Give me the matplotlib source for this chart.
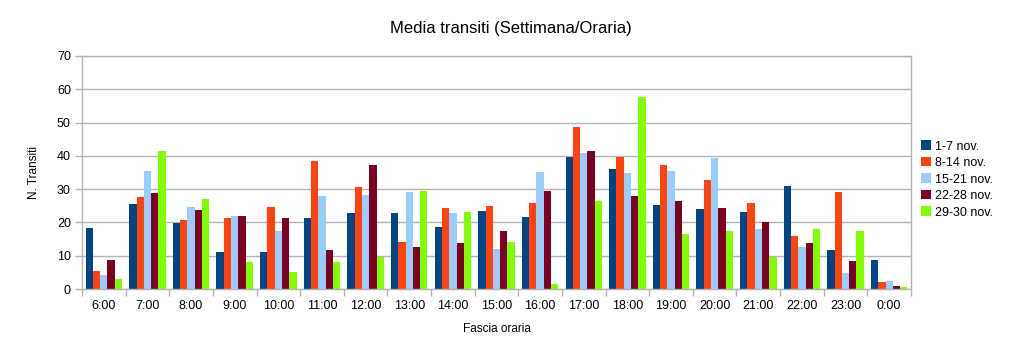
import matplotlib
matplotlib.use("Agg")
import matplotlib.pyplot as plt
import numpy as np

plt.rcParams['font.family'] = ['Liberation Sans', 'DejaVu Sans']

categories = ["6:00", "7:00", "8:00", "9:00", "10:00", "11:00", "12:00", "13:00", "14:00",
              "15:00", "16:00", "17:00", "18:00", "19:00", "20:00", "21:00", "22:00", "23:00", "0:00"]
s1_7 = [18.2, 25.6, 19.9, 11.1, 11.1, 21.2, 22.7, 22.9, 18.7, 23.4, 21.5, 39.7, 36.0, 25.1, 24.0, 23.0, 30.8, 11.6, 8.8]
s8_14 = [5.4, 27.6, 20.7, 21.2, 24.5, 38.5, 30.7, 14.1, 24.2, 25.0, 25.7, 48.8, 39.8, 37.2, 32.6, 25.9, 15.8, 29.1, 2.0]
s15_21 = [4.3, 35.6, 24.6, 22.0, 17.4, 27.9, 28.3, 29.1, 22.8, 12.0, 35.3, 40.8, 34.7, 35.5, 39.4, 18.1, 12.6, 4.8, 2.5]
s22_28 = [8.8, 28.9, 23.6, 22.0, 21.2, 11.8, 37.2, 12.6, 13.9, 17.5, 29.5, 41.4, 27.9, 26.3, 24.3, 20.2, 13.9, 8.5, 0.8]
s29_30 = [3.1, 41.5, 27.0, 8.1, 5.1, 8.0, 9.6, 29.4, 23.0, 14.0, 1.5, 26.5, 57.6, 16.5, 17.5, 9.7, 18.0, 17.5, 0.6]
series_labels = ["1-7 nov.", "8-14 nov.", "15-21 nov.", "22-28 nov.", "29-30 nov."]
colors = ["#004586", "#ff420e", "#99ccff", "#7e0021", "#7fff00"]

series = [s1_7, s8_14, s15_21, s22_28, s29_30]

fig = plt.figure(figsize=(10.21, 3.58), dpi=100)
ax = fig.add_axes([82/1021, 1-289/358, (911-82)/1021, (289-56)/358])

x = np.arange(len(categories))
w = 0.167
for i, (vals, lab, c) in enumerate(zip(series, series_labels, colors)):
    ax.bar(x + (i - 2) * w, vals, width=w, color=c, label=lab, zorder=2)

ax.set_xlim(-0.5, len(categories) - 0.5)
ax.set_ylim(0, 70)
ax.set_yticks(range(0, 71, 10))
ax.yaxis.grid(True, color="#b3b3b3", linewidth=1, zorder=0)
ax.set_axisbelow(True)

ax.set_xticks(x)
ax.set_xticklabels(categories, fontsize=9)
ax.tick_params(axis='x', length=0, pad=8)
ax.set_xticks(np.arange(-0.5, len(categories), 1), minor=True)
ax.tick_params(axis='x', which='minor', length=5, color="#b3b3b3", width=1)
ax.tick_params(axis='y', length=5, color="#b3b3b3", width=1, labelsize=9, pad=3)

for sp in ax.spines.values():
    sp.set_color("#b3b3b3")
    sp.set_linewidth(1)

fig.text(0.5, 1 - 28/358, "Media transiti (Settimana/Oraria)", fontsize=12, ha='center', va='center')
ax.set_xlabel("Fascia oraria", fontsize=8.5, labelpad=8)
ax.set_ylabel("N. Transiti", fontsize=8.5, labelpad=12)

leg = ax.legend(loc='center left', bbox_to_anchor=(1.0, 0.47), frameon=False, fontsize=9,
                handlelength=0.8, handleheight=0.8, handletextpad=0.3, labelspacing=0.35,
                borderaxespad=0.4)

fig.savefig("out.png", dpi=100)
